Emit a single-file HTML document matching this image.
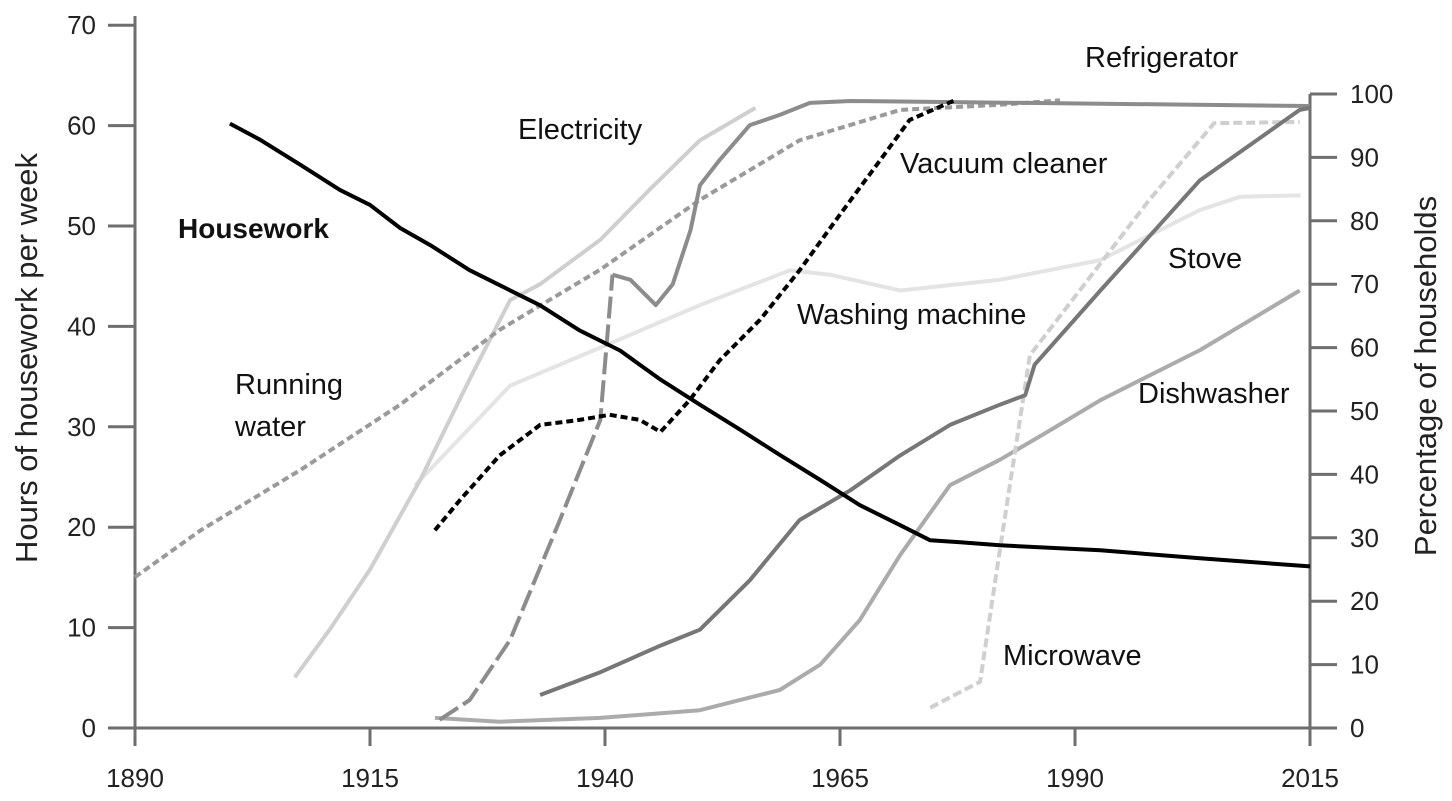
<!DOCTYPE html>
<html><head><meta charset="utf-8"><style>
body{margin:0;background:#fff;}
svg{display:block;font-family:"Liberation Sans",sans-serif;}
</style></head><body>
<svg id="c" width="1452" height="801" viewBox="0 0 1452 801"></svg>
<script>
const xTicks=[1890,1915,1940,1965,1990,2015];
const hTicks=[0,10,20,30,40,50,60,70];
const pTicks=[0,10,20,30,40,50,60,70,80,90,100];
const houseYears=[1900.1,1903.3,1907.6,1911.8,1915,1918.2,1921.4,1925.6,1928.8,1933.1,1937.3,1941.6,1945.9,1950.1,1954.4,1958.6,1962.9,1967.1,1971.4,1974.6,1977.8,1982,1992.7,2003.3,2015];
const houseHours=[60.2,58.6,56.1,53.6,52.1,49.8,48.1,45.6,44.1,42.1,39.6,37.6,34.7,32.2,29.7,27.2,24.7,22.2,20.2,18.7,18.5,18.2,17.7,16.9,16.1];
const waterYears=[1890,1897,1907.6,1918.2,1928.8,1939.5,1950.1,1960.7,1971.4,1982,1988.4];
const waterPct=[23.8,31.2,40.7,51,62.8,72.3,83.3,92.7,97.5,98.3,99];
const elecYears=[1907,1910.7,1915,1920.3,1925.6,1929.9,1933.1,1939.5,1944.8,1950.1,1956];
const elecPct=[8,15.5,25,39,55,67.5,70,77,85,92.7,97.8];
const washYears=[1919.8,1929.9,1939.5,1950.1,1959.7,1963.9,1971.4,1982,1992.7,2003.3,2007.6,2014];
const washPct=[38.3,54,60,66.7,72.2,71.5,69,70.7,73.8,81.7,83.8,84];
const vacYears=[1921.9,1924.6,1928.8,1933.1,1937.3,1940.5,1943.7,1945.9,1949.0,1952.2,1956.5,1960.7,1965,1969.3,1972.4,1977.2];
const vacPct=[31.2,36,43,47.8,48.6,49.4,48.6,46.7,51.7,58,64.4,72.2,81,89.6,95.9,99];
const fridgeYears=[1922.4,1925.6,1929.9,1935.2,1939.5,1940.8,1942.7,1945.4,1947.2,1949.1,1950.1,1952.2,1955.4,1958.6,1961.8,1966.1,2015];
const fridgePct=[1.3,4.4,13.9,32.8,48.6,71.5,70.7,66.7,70,78.5,85.6,89.6,95.1,96.7,98.6,98.9,98.1];
const stoveYears=[1933.1,1939.5,1945.9,1950.1,1955.4,1960.7,1966.1,1971.4,1976.7,1982,1984.7,1985.7,1992.7,2003.3,2013.9,2015];
const stovePct=[5.2,8.8,13,15.5,23.3,32.8,37.5,43,47.8,51,52.5,57.3,69,86.4,97.5,97.8];
const dishYears=[1921.9,1928.8,1939.5,1950.1,1958.6,1962.9,1967.1,1971.4,1976.7,1982,1987.4,1992.7,2003.3,2013.9];
const dishPct=[1.6,1,1.6,2.8,6,10,17,27.3,38.3,42.3,47,51.7,59.6,69];
const microYears=[1974.6,1979.9,1982,1985.2,1990.5,1997.9,2004.8,2013.9];
const microPct=[3.2,7.3,28,58.8,69,83.3,95.4,95.6];

const svg=document.getElementById('c');
const NS='http://www.w3.org/2000/svg';
const X=y=>135+(y-1890)*9.4;
const YH=h=>728-h*10.04;
const YP=p=>728-p*6.34;
function mk(tag,attrs,parent){const e=document.createElementNS(NS,tag);for(const k in attrs)e.setAttribute(k,attrs[k]);(parent||svg).appendChild(e);return e;}
const AX='#6e6e6e';
let a=mk('line',{x1:135,y1:16,x2:135,y2:728,stroke:AX,'stroke-width':3});


a=mk('line',{x1:108,y1:728,x2:1310,y2:728,stroke:AX,'stroke-width':3});


a=mk('line',{x1:1310,y1:94,x2:1310,y2:728,stroke:AX,'stroke-width':3});


hTicks.forEach(h=>{
  const t=mk('line',{x1:108,y1:YH(h),x2:135,y2:YH(h),stroke:AX,'stroke-width':3});
  
  
  const l=mk('text',{x:96,y:YH(h)+9,'text-anchor':'end','font-size':26,fill:'#222'});
  l.textContent=h;
  
  
});
pTicks.forEach(p=>{
  const t=mk('line',{x1:1310,y1:YP(p),x2:1337,y2:YP(p),stroke:AX,'stroke-width':3});
  
  
  const l=mk('text',{x:1350,y:YP(p)+9,'font-size':26,fill:'#222'});
  l.textContent=p;
  
  
});
xTicks.forEach(y=>{
  const t=mk('line',{x1:X(y),y1:728,x2:X(y),y2:746,stroke:AX,'stroke-width':3});
  
  
  const l=mk('text',{x:X(y),y:787,'text-anchor':'middle','font-size':26,fill:'#222'});
  l.textContent=y;
  
  
});
let t=mk('text',{x:0,y:0,transform:'translate(37,358) rotate(-90)','text-anchor':'middle','font-size':31,fill:'#222'});
t.textContent='Hours of housework per week';


t=mk('text',{x:0,y:0,transform:'translate(1436,376) rotate(-90)','text-anchor':'middle','font-size':31,fill:'#222'});
t.textContent='Percentage of households';



function series(xs,vs,yf,style,name){
  const d=xs.map((x,i)=>(i?'L':'M')+X(x).toFixed(1)+','+yf(vs[i]).toFixed(1)).join(' ');
  const p=mk('path',Object.assign({d:d,fill:'none','stroke-width':4,'stroke-linejoin':'round'},style));
  
  
}
series(washYears,washPct,YP,{stroke:'#e4e4e4'},'washing-machine-line');
series(elecYears,elecPct,YP,{stroke:'#cfcfcf'},'electricity-line');
series(waterYears,waterPct,YP,{stroke:'#9a9a9a','stroke-dasharray':'7 4'},'running-water-line');
series(dishYears,dishPct,YP,{stroke:'#ababab'},'dishwasher-line');
series(microYears,microPct,YP,{stroke:'#cfcfcf','stroke-dasharray':'9 4'},'microwave-line');
series(fridgeYears.slice(0,6),fridgePct.slice(0,6),YP,{stroke:'#8c8c8c','stroke-dasharray':'22 6'},'refrigerator-line-dashed');
series(fridgeYears.slice(5),fridgePct.slice(5),YP,{stroke:'#8c8c8c'},'refrigerator-line');
series(stoveYears,stovePct,YP,{stroke:'#777'},'stove-line');
series(vacYears,vacPct,YP,{stroke:'#000','stroke-dasharray':'7 4'},'vacuum-cleaner-line');
series(houseYears,houseHours,YH,{stroke:'#000'},'housework-line');

const labels=[['Refrigerator',1085,67,'normal',29],['Electricity',518,139,'normal',29],['Vacuum cleaner',900,173,'normal',29],['Housework',178,238,'bold',28],['Stove',1168,268,'normal',29],['Washing machine',797,324,'normal',29],['Running',235,394,'normal',29],['water',235,436,'normal',29],['Dishwasher',1138,403,'normal',29],['Microwave',1003,665,'normal',29]];
labels.forEach(l=>{
  const e=mk('text',{x:l[1],y:l[2],'font-size':l[4],'font-weight':l[3],fill:'#111'});
  e.textContent=l[0];
  
  
});
</script>
</body></html>
